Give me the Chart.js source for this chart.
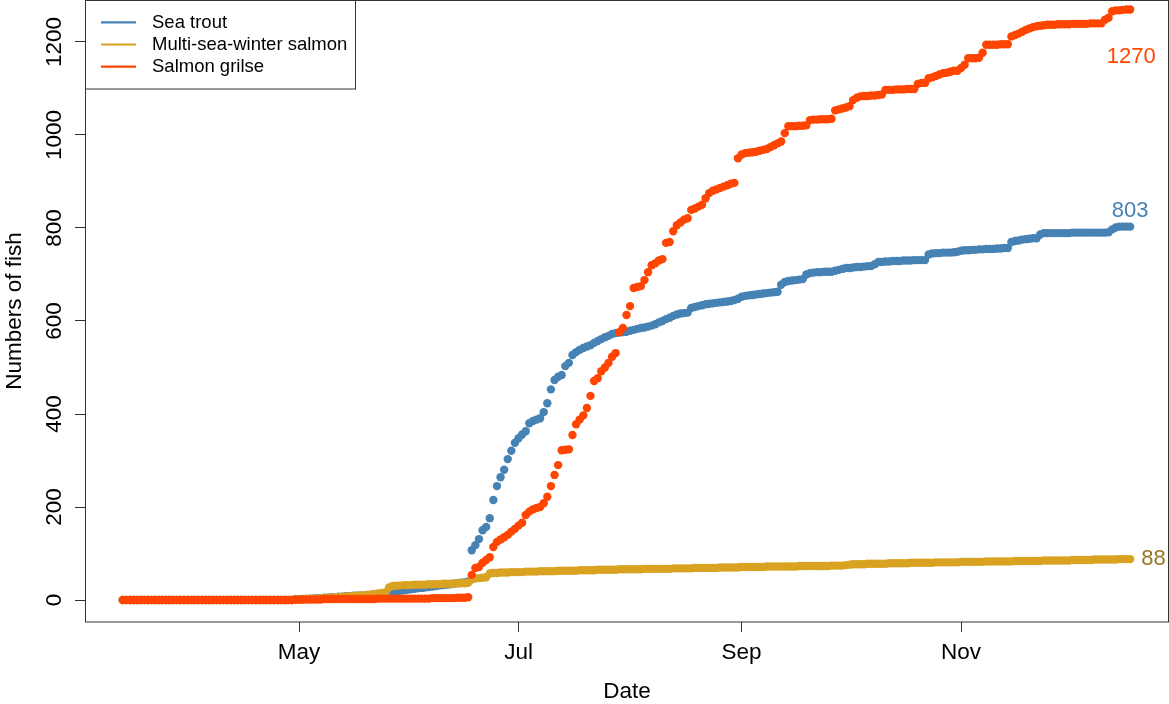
<!DOCTYPE html>
<html>
<head>
<meta charset="utf-8">
<title>Cumulative fish counts</title>
<script src="https://cdn.jsdelivr.net/npm/chart.js@4.4.1/dist/chart.umd.min.js"></script>
<style>
  html, body { margin: 0; padding: 0; background: #ffffff; }
  #wrap { width: 1169px; height: 704px; }
</style>
</head>
<body>
<div id="wrap"><canvas id="chart" width="1169" height="704"></canvas></div>
<script>
// Day of year of the first count (13 March); one value per day after that.
const firstDay = 72;

// Month ticks on the date axis (day of year) and their labels.
const monthTickDays = [121, 182, 244, 305];
const monthTickLabels = ['May', 'Jul', 'Sep', 'Nov'];

// Ticks on the count axis.
const countTicks = [0, 200, 400, 600, 800, 1000, 1200];

const seriesNames = ['Sea trout', 'Multi-sea-winter salmon', 'Salmon grilse'];

// Cumulative daily counts, 13 March to 18 December.
const seaTrout = [
  0,0,0,0,0,0,0,0,0,0,0,0, 0,0,0,0,0,0,0,0,0,0,0,0,
  0,0,0,0,0,0,0,0,0,0,0,0, 0,0,0,0,0,0,0,0,0,0,0,0,
  1, 1,2,2,3,3,4,4, 5,5,6,6,7,7,8,8,9,9, 10,10,11,11,12,12,13,14,
  17,18,19,20,21,22,23,24,25,26,27,28, 29,30,31,32,33,34,35,36,37,38, 40,
  107,118,131,150,157,176,215,245,264,280,303,321,338,
  348,356,363,380,385,388,391,404,423,453,473,480,484,503,510,
  527,533,538,542,545,548,553,557,561,565,568,572,574,575,
  576,577,579,581,583,585,586,588,590,593,597,600,604,607,611,614,616,617,618,
  628,630,632,634,636,637,638,639,640,641,642,643,645,648,652,654,655,656,657,658,659,660,661,662,663,
  678,684,686,687,688,689,690,
  700,703,704,705,705,706,706,706,
  708,710,712,714,714,715,716,716,717,718,718,
  722,727,727,728,728,729,729,729,730,730,730,731,731,731,731,
  743,745,746,746,747,747,747,748,749,
  751,752,752,753,753,754,754,755,755,755,756,756,757,757,
  770,772,773,775,776,777,778,778,
  786,789,789,789,789,789,789,789,789,790,790,790,790,790,790,790,790,790,790,791,
  797,801,803,803,803,803
];

const mswSalmon = [
  0,0,0,0,0,0,0,0,0,0,0,0, 0,0,0,0,0,0,0,0,0,0,0,0,
  0,0,0,0,0,0,0,0,0,0,0,0, 0,0,0,0,0,0,0,0,0,0,0,0, 0,
  1,
  1,2,2,3,3,4,4,5,5,6,6,7,7,8,8,9,10,10,11,12,13,14,15,16,
  27,30,31,31,
  32,32,32,33,33,33,33,34,34,34,34,35,35,35,35,36,36,36,
  37,
  44,46,47,48,49,57,58,58,59,59,59,60,60,60,
  60,61,61,61,61,62,62,62,62,62,63,63,63,63,63,
  63,64,64,64,64,64,65,65,65,65,65,65,66,66,66,66,66,66,66,67,67,67,67,67,67,
  67,67,68,68,68,68,68,68,69,69,69,69,69,69,69,70,70,70,70,70,70,
  71,71,71,71,71,71,71,72,72,72,72,72,72,72,72,72,73,73,73,73,73,73,73,73,73,74,74,74,74,
  75,76,77,77,77,
  77,78,78,78,78,78,78,79,79,79,79,79,79,80,80,80,80,80,80,80,81,81,81,81,81,81,81,82,
  82,82,82,82,82,82,83,83,83,83,83,83,83,83,84,84,84,84,84,84,84,84,85,85,85,85,85,
  85,85,85,86,86,86,86,86,86,87,87,87,87,87,87,87,88,88,88,88
];

const grilse = [
  0,0,0,0,0,0,0,0,0,0,0,0, 0,0,0,0,0,0,0,0,0,0,0,0,
  0,0,0,0,0,0,0,0,0,0,0,0, 0,0,0,0,0,0,0,0,0,0,0,0,
  1,1,1,1,1,1,1,1,
  2,2,2,2,2,2,2,2,2,2,2,2,2,2,2,
  3,3,3,3,3,3,3,3,3,3,3,3,3,3,3,
  4,4,4,4,4,4,4,
  5,5,5,6,
  54,69,71,80,86,92,114,125,130,135,140,147,153,
  160,166,183,190,195,198,200,208,222,245,269,290,322,323,324,
  355,378,388,397,413,439,471,477,492,500,510,523,531,
  576,585,613,632,671,673,675,688,705,720,724,730,733,768,770,793,806,812,818,821,
  839,842,846,850,864,875,880,883,886,889,892,895,897,950,
  958,961,962,963,964,966,968,970,974,978,982,986,
  1004,1019,1019,1019,1020,1020,1021,1032,1033,1033,1034,1034,1034,1035,
  1053,1055,1057,1059,1062,1075,1080,1083,1084,1084,1085,1085,1086,1087,
  1097,1097,1097,1098,1098,1098,1099,1099,1099,1110,1112,1112,
  1122,1124,1127,1130,1133,1134,1136,1138,1138,1144,1151,1165,1165,1165,1166,1177,
  1194,1194,1194,1194,1195,1195,1195,1212,1215,1218,1222,1226,1229,1232,1234,1235,1236,
  1237,1237,1237,1238,1238,1238,1238,1239,1239,1239,1239,1239,1240,1240,1240,1240,
  1248,1252,1266,1268,1268,1269,1270,1270
];

const seriesColors = ['#4682B4', '#D9A221', '#FF4500'];
const labelColors = ['#4682B4', '#9A7420', '#FF4500'];
const FONT = '"Liberation Sans", Arial, Helvetica, sans-serif';
const AXIS_SIZE = 22.5;

function toPoints(values) {
  return values.map((v, i) => ({ x: firstDay + i, y: v }));
}

// Box, rotated count labels, end-of-season totals and legend.
const decorations = {
  id: 'decorations',
  afterDatasetsDraw(chart) {
    const { ctx, chartArea: ca, scales } = chart;
    const xs = scales.x, ys = scales.y;
    ctx.save();

    // plot frame
    ctx.strokeStyle = '#333333';
    ctx.lineWidth = 1;
    ctx.strokeRect(ca.left + 0.5, ca.top + 0.5, ca.right - ca.left - 1, ca.bottom - ca.top - 0.5);

    // count axis labels, written along the axis
    ctx.fillStyle = '#000000';
    ctx.font = AXIS_SIZE + 'px ' + FONT;
    ctx.textAlign = 'center';
    ctx.textBaseline = 'middle';
    ys.ticks.forEach(t => {
      const py = ys.getPixelForValue(t.value);
      ctx.save();
      ctx.translate(55, py);
      ctx.rotate(-Math.PI / 2);
      ctx.fillText(String(t.value), 0, 0);
      ctx.restore();
    });

    // totals at the end of each series
    const ends = [seaTrout, mswSalmon, grilse].map(arr => {
      const i = arr.length - 1;
      return { v: arr[i], px: xs.getPixelForValue(firstDay + i), py: ys.getPixelForValue(arr[i]) };
    });
    ctx.font = '22px ' + FONT;
    ctx.textBaseline = 'middle';
    // sea trout: above the last point
    ctx.fillStyle = labelColors[0];
    ctx.textAlign = 'center';
    ctx.fillText(String(ends[0].v), ends[0].px, ends[0].py - 16);
    // multi-sea-winter salmon: right of the last point
    ctx.fillStyle = labelColors[1];
    ctx.textAlign = 'left';
    ctx.fillText(String(ends[1].v), ends[1].px + 11, ends[1].py);
    // grilse: below the last point
    ctx.fillStyle = labelColors[2];
    ctx.textAlign = 'center';
    ctx.fillText(String(ends[2].v), ends[2].px + 1, ends[2].py + 47);

    // legend
    const lx = ca.left, ly = ca.top, lw = 270, lh = 88.5;
    ctx.fillStyle = '#ffffff';
    ctx.fillRect(lx + 0.5, ly + 0.5, lw, lh);
    ctx.strokeStyle = '#333333';
    ctx.lineWidth = 1;
    ctx.strokeRect(lx + 0.5, ly + 0.5, lw, lh);
    ctx.font = '18.5px ' + FONT;
    ctx.textAlign = 'left';
    ctx.textBaseline = 'middle';
    const rows = [22.3, 44.5, 66.7];
    seriesNames.forEach((name, k) => {
      ctx.strokeStyle = seriesColors[k];
      ctx.lineWidth = 2.2;
      ctx.beginPath();
      ctx.moveTo(lx + 16, ly + rows[k]);
      ctx.lineTo(lx + 51, ly + rows[k]);
      ctx.stroke();
      ctx.fillStyle = '#000000';
      ctx.fillText(name, lx + 67, ly + rows[k] + 0.5);
    });
    ctx.restore();
  }
};

const tickGrid = {
  display: true,
  drawOnChartArea: false,
  drawTicks: true,
  tickLength: 10,
  tickColor: '#333333',
  tickWidth: 1,
  color: '#333333'
};

new Chart(document.getElementById('chart'), {
  type: 'scatter',
  data: {
    datasets: [
      { label: seriesNames[0], data: toPoints(seaTrout), order: 3,
        backgroundColor: seriesColors[0], borderColor: seriesColors[0] },
      { label: seriesNames[1], data: toPoints(mswSalmon), order: 2,
        backgroundColor: seriesColors[1], borderColor: seriesColors[1] },
      { label: seriesNames[2], data: toPoints(grilse), order: 1,
        backgroundColor: seriesColors[2], borderColor: seriesColors[2] }
    ]
  },
  options: {
    responsive: false,
    animation: false,
    devicePixelRatio: 1,
    layout: { autoPadding: false, padding: { left: 0, right: 0, top: 0, bottom: 0 } },
    elements: { point: { radius: 4.2, borderWidth: 0, hoverRadius: 4.2 } },
    plugins: { legend: { display: false }, tooltip: { enabled: false } },
    scales: {
      x: {
        type: 'linear',
        min: 61.5,
        max: 362.8,
        afterBuildTicks: s => { s.ticks = monthTickDays.map(v => ({ value: v })); },
        afterFit: s => { s.height = 82; },
        ticks: {
          autoSkip: false, maxRotation: 0, padding: 7.5,
          color: '#000000',
          font: { family: FONT, size: AXIS_SIZE },
          callback: (v, i) => monthTickLabels[i]
        },
        grid: tickGrid,
        border: { display: false },
        title: {
          display: true, text: 'Date', color: '#000000',
          font: { family: FONT, size: AXIS_SIZE },
          padding: { top: 0, bottom: -1.5 }
        }
      },
      y: {
        type: 'linear',
        min: -47.3,
        max: 1290.3,
        afterBuildTicks: s => { s.ticks = countTicks.map(v => ({ value: v })); },
        afterFit: s => { s.width = 85; },
        ticks: { display: false },
        grid: tickGrid,
        border: { display: false },
        title: {
          display: true, text: 'Numbers of fish', color: '#000000',
          font: { family: FONT, size: AXIS_SIZE },
          padding: { top: 1.5, bottom: 0 }
        }
      }
    }
  },
  plugins: [decorations]
});
</script>
</body>
</html>
